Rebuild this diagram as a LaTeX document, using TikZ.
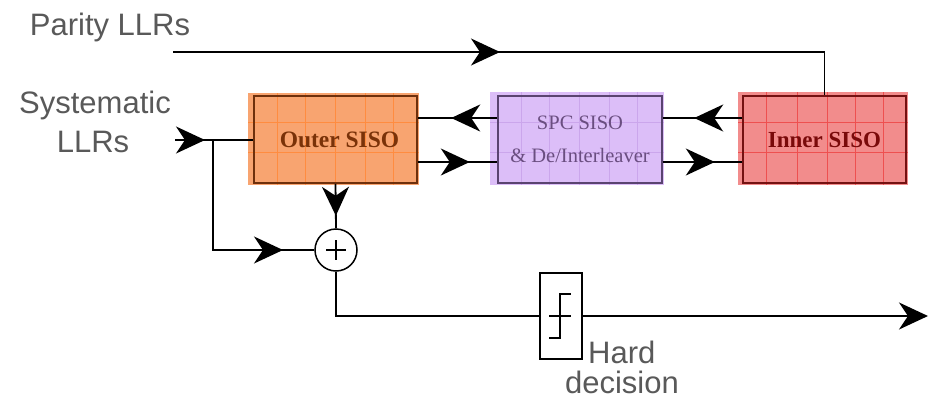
\documentclass[tikz,border=0pt]{standalone}
\usepackage{fontspec}
\setmainfont{Liberation Sans}
\newfontfamily\boxfont{Liberation Serif}
\usetikzlibrary{arrows.meta,decorations.markings}
\definecolor{txtgray}{HTML}{595959}
\definecolor{outfill}{HTML}{F8A470}
\definecolor{outgrid}{HTML}{FF8C40}
\definecolor{outborder}{HTML}{6E300C}
\definecolor{outtext}{HTML}{7A3208}
\definecolor{spcfill}{HTML}{DCBEF8}
\definecolor{spcgrid}{HTML}{CBA6EC}
\definecolor{spcborder}{HTML}{5A4470}
\definecolor{spctext}{HTML}{6A4E80}
\definecolor{inrfill}{HTML}{F28C8C}
\definecolor{inrgrid}{HTML}{EE5050}
\definecolor{inrborder}{HTML}{741212}
\definecolor{inrtext}{HTML}{7A0A0A}
\begin{document}
\begin{tikzpicture}[x=1pt,y=-1pt,
  wire/.style={line width=1.8pt,black},
  bigtip/.tip={Stealth[length=29pt,width=27pt,inset=9pt]},
  midarrow/.style={postaction={decorate},decoration={markings,
     mark=at position #1 with {\arrow{bigtip}}}},
  sisobox/.style={rectangle,line width=1.6pt,minimum width=163pt,minimum height=87pt,
     inner sep=0pt,align=center},
  lbl/.style={text=txtgray,font=\fontsize{31}{37}\selectfont,inner sep=0pt},
  gridline/.style={line width=0.8pt}
]
\useasboundingbox (0,0) rectangle (930,400);

% ---- box backgrounds with grid ----
\fill[outfill] (248,93) rectangle (419,185);
\foreach \x in {277,305,335,365,393} \draw[gridline,outgrid] (\x,93) -- (\x,185);
\foreach \y in {122,152} \draw[gridline,outgrid] (248,\y) -- (419,\y);

\fill[spcfill] (490,92) rectangle (664,185);
\foreach \x in {521,549,579,609,637} \draw[gridline,spcgrid] (\x,92) -- (\x,185);
\foreach \y in {122,152} \draw[gridline,spcgrid] (490,\y) -- (664,\y);

\fill[inrfill] (738,92) rectangle (908,185);
\foreach \x in {766,797,827,855,883} \draw[gridline,inrgrid] (\x,92) -- (\x,185);
\foreach \y in {122,152} \draw[gridline,inrgrid] (738,\y) -- (908,\y);

% ---- blocks ----
\node[sisobox,draw=outborder,text=outtext,font=\boxfont\bfseries\fontsize{23.5}{28}\selectfont]
  (outer) at (335.5,139.5) {\hspace*{8pt}Outer SISO};
\node[sisobox,draw=spcborder,text=spctext,minimum width=164pt,font=\boxfont\fontsize{20.5}{33}\selectfont]
  (spc) at (580,139.5) {SPC SISO\\\& De/Interleaver};
\node[sisobox,draw=inrborder,text=inrtext,font=\boxfont\bfseries\fontsize{23}{28}\selectfont]
  (inner) at (824.5,139.5) {Inner SISO};

\node[circle,draw,line width=1.5pt,minimum size=42pt,inner sep=0pt] (sum) at (336,250) {};
\draw[line width=1.3pt] ([yshift=10pt]sum.center) -- ([yshift=-10pt]sum.center);
\draw[line width=1.3pt] ([xshift=-10pt]sum.center) -- ([xshift=10pt]sum.center);

\node[rectangle,draw,line width=1.5pt,minimum width=42pt,minimum height=86pt,inner sep=0pt]
  (hd) at (561,316) {};
\draw[line width=1.4pt] ([xshift=-12pt,yshift=-22pt]hd.center) -- ++(11pt,0pt)
  -- ++(0pt,44pt) -- ++(11pt,0pt);
\draw[line width=1.4pt] ([xshift=-12pt]hd.center) -- ([xshift=10pt]hd.center);

% ---- labels ----
\node[lbl,anchor=base] (parity) at (110,35) {Parity LLRs};
\node[lbl,anchor=base] (sysA) at (95,113) {Systematic};
\node[lbl,anchor=base] (sysB) at (93,152) {LLRs};
\node[lbl,anchor=base west] (hardA) at (588,363) {Hard};
\node[lbl,anchor=base] (hardB) at (622,393) {decision};

% ---- connectors ----
\coordinate (pin) at (173,52);
\coordinate (sin) at (175,140);
\coordinate (junc) at (213,140);
\coordinate (outend) at (928,316);

\draw[wire,midarrow=327pt] (pin) -| (inner.north);
\draw[wire,midarrow=30pt] (sin) -- (sin -| outer.west);
\draw[wire,midarrow=180pt] (junc) |- (sum.west);
\draw[wire,midarrow=32pt] (outer.south) -- (sum.north);
\draw[wire] (sum.south) |- (hd.west);
\draw[wire,-bigtip] (hd.east) -- (outend);

\draw[wire,midarrow=46pt] ([yshift=21.5pt]spc.west) -- ([yshift=21.5pt]outer.east);
\draw[wire,midarrow=52pt] ([yshift=-22.5pt]outer.east) -- ([yshift=-22.5pt]spc.west);
\draw[wire,midarrow=48pt] ([yshift=21.5pt]inner.west) -- ([yshift=21.5pt]spc.east);
\draw[wire,midarrow=52pt] ([yshift=-22.5pt]spc.east) -- ([yshift=-22.5pt]inner.west);
\end{tikzpicture}
\end{document}
